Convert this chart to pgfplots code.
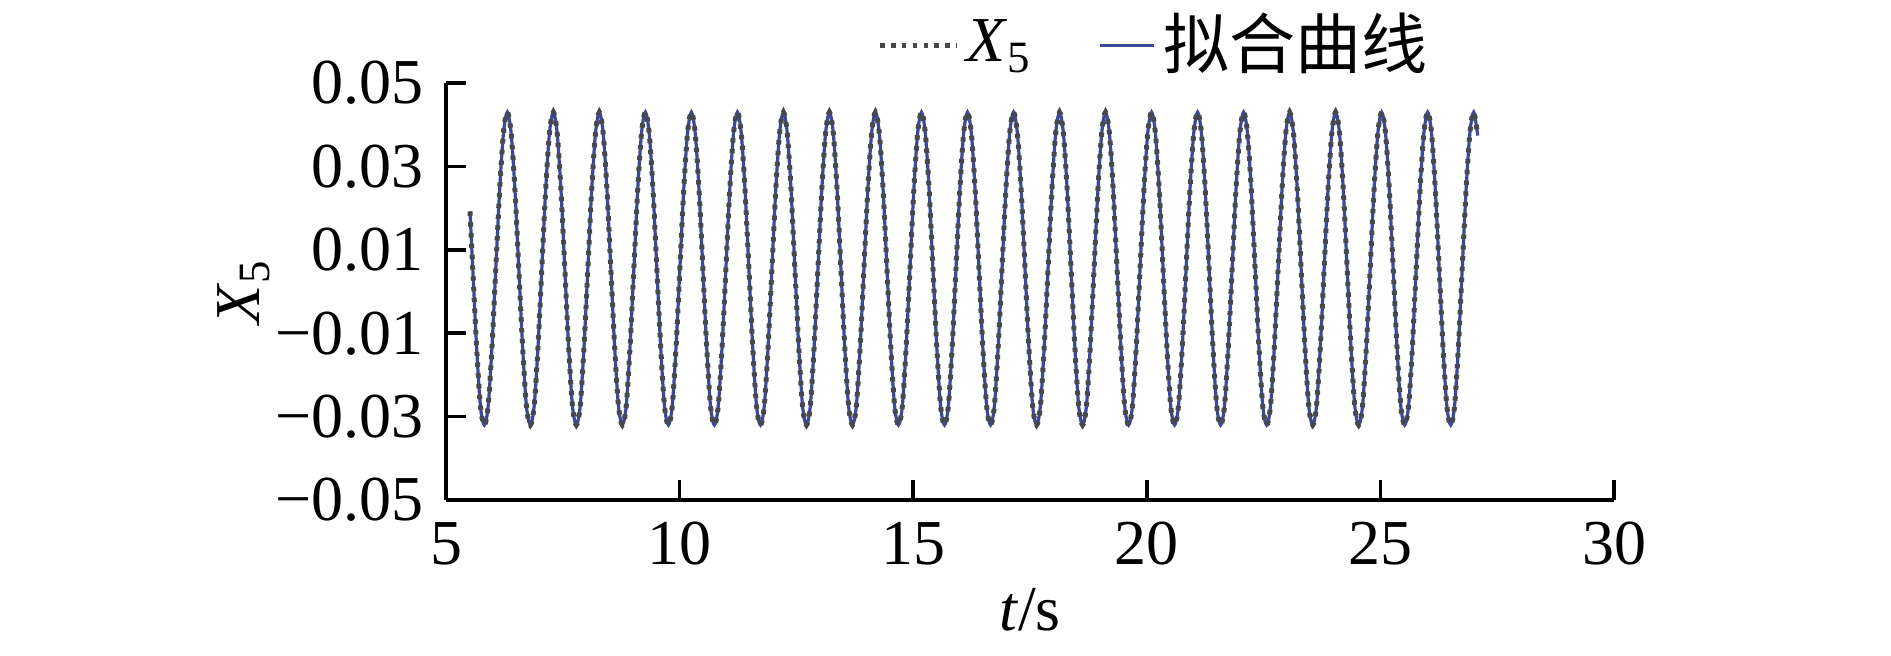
\documentclass[border=0pt]{standalone}
\usepackage{fontspec}
\setmainfont{Liberation Serif}
\newfontfamily\cjk{Noto Sans CJK SC}
\usepackage{pgfplots}
\usepackage{pgfplotstable}
\pgfplotsset{compat=1.18}

\definecolor{fitblue}{RGB}{62,72,150}
\definecolor{rawgrey}{RGB}{72,72,76}

\pgfplotsset{
  dotleg/.style={legend image code/.code={\draw[##1] (0pt,0pt) -- (19pt,0pt);}},
  lineleg/.style={legend image code/.code={\draw[##1] (0pt,0pt) -- (11pt,0pt); \path (0pt,0pt) -- (13.5pt,0pt);}},
}

% X5 response (t in s)
\pgfplotstableread[row sep=\\]{
t x \\
5.514 0.0192 \\ 5.573 0.0055 \\ 5.655 -0.0133 \\ 5.737 -0.0275 \\ 5.820 -0.0320 \\ 5.902 -0.0275 \\ 5.984 -0.0133 \\ 6.066 0.0055 \\ 6.148 0.0243 \\ 6.230 0.0380 \\
6.312 0.0430 \\ 6.394 0.0380 \\ 6.476 0.0243 \\ 6.558 0.0055 \\ 6.640 -0.0133 \\ 6.722 -0.0275 \\ 6.805 -0.0320 \\ 6.887 -0.0275 \\ 6.969 -0.0133 \\ 7.051 0.0055 \\ 7.133 0.0243 \\ 7.215 0.0380 \\
7.297 0.0430 \\ 7.379 0.0380 \\ 7.461 0.0243 \\ 7.543 0.0055 \\ 7.625 -0.0133 \\ 7.707 -0.0275 \\ 7.790 -0.0320 \\ 7.872 -0.0275 \\ 7.954 -0.0133 \\ 8.036 0.0055 \\ 8.118 0.0243 \\ 8.200 0.0380 \\
8.282 0.0430 \\ 8.364 0.0380 \\ 8.446 0.0243 \\ 8.528 0.0055 \\ 8.610 -0.0133 \\ 8.692 -0.0275 \\ 8.775 -0.0320 \\ 8.857 -0.0275 \\ 8.939 -0.0133 \\ 9.021 0.0055 \\ 9.103 0.0243 \\ 9.185 0.0380 \\
9.267 0.0430 \\ 9.349 0.0380 \\ 9.431 0.0243 \\ 9.513 0.0055 \\ 9.595 -0.0133 \\ 9.677 -0.0275 \\ 9.760 -0.0320 \\ 9.842 -0.0275 \\ 9.924 -0.0133 \\ 10.006 0.0055 \\ 10.088 0.0243 \\ 10.170 0.0380 \\
10.252 0.0430 \\ 10.334 0.0380 \\ 10.416 0.0243 \\ 10.498 0.0055 \\ 10.580 -0.0133 \\ 10.662 -0.0275 \\ 10.745 -0.0320 \\ 10.827 -0.0275 \\ 10.909 -0.0133 \\ 10.991 0.0055 \\ 11.073 0.0243 \\ 11.155 0.0380 \\
11.237 0.0430 \\ 11.319 0.0380 \\ 11.401 0.0243 \\ 11.483 0.0055 \\ 11.565 -0.0133 \\ 11.647 -0.0275 \\ 11.730 -0.0320 \\ 11.812 -0.0275 \\ 11.894 -0.0133 \\ 11.976 0.0055 \\ 12.058 0.0243 \\ 12.140 0.0380 \\
12.222 0.0430 \\ 12.304 0.0380 \\ 12.386 0.0243 \\ 12.468 0.0055 \\ 12.550 -0.0133 \\ 12.632 -0.0275 \\ 12.715 -0.0320 \\ 12.797 -0.0275 \\ 12.879 -0.0133 \\ 12.961 0.0055 \\ 13.043 0.0243 \\ 13.125 0.0380 \\
13.207 0.0430 \\ 13.289 0.0380 \\ 13.371 0.0243 \\ 13.453 0.0055 \\ 13.535 -0.0133 \\ 13.617 -0.0275 \\ 13.700 -0.0320 \\ 13.782 -0.0275 \\ 13.864 -0.0133 \\ 13.946 0.0055 \\ 14.028 0.0243 \\ 14.110 0.0380 \\
14.192 0.0430 \\ 14.274 0.0380 \\ 14.356 0.0243 \\ 14.438 0.0055 \\ 14.520 -0.0133 \\ 14.602 -0.0275 \\ 14.685 -0.0320 \\ 14.767 -0.0275 \\ 14.849 -0.0133 \\ 14.931 0.0055 \\ 15.013 0.0243 \\ 15.095 0.0380 \\
15.177 0.0430 \\ 15.259 0.0380 \\ 15.341 0.0243 \\ 15.423 0.0055 \\ 15.505 -0.0133 \\ 15.587 -0.0275 \\ 15.670 -0.0320 \\ 15.752 -0.0275 \\ 15.834 -0.0133 \\ 15.916 0.0055 \\ 15.998 0.0243 \\ 16.080 0.0380 \\
16.162 0.0430 \\ 16.244 0.0380 \\ 16.326 0.0243 \\ 16.408 0.0055 \\ 16.490 -0.0133 \\ 16.572 -0.0275 \\ 16.655 -0.0320 \\ 16.737 -0.0275 \\ 16.819 -0.0133 \\ 16.901 0.0055 \\ 16.983 0.0243 \\ 17.065 0.0380 \\
17.147 0.0430 \\ 17.229 0.0380 \\ 17.311 0.0243 \\ 17.393 0.0055 \\ 17.475 -0.0133 \\ 17.557 -0.0275 \\ 17.640 -0.0320 \\ 17.722 -0.0275 \\ 17.804 -0.0133 \\ 17.886 0.0055 \\ 17.968 0.0243 \\ 18.050 0.0380 \\
18.132 0.0430 \\ 18.214 0.0380 \\ 18.296 0.0243 \\ 18.378 0.0055 \\ 18.460 -0.0133 \\ 18.542 -0.0275 \\ 18.625 -0.0320 \\ 18.707 -0.0275 \\ 18.789 -0.0133 \\ 18.871 0.0055 \\ 18.953 0.0243 \\ 19.035 0.0380 \\
19.117 0.0430 \\ 19.199 0.0380 \\ 19.281 0.0243 \\ 19.363 0.0055 \\ 19.445 -0.0133 \\ 19.527 -0.0275 \\ 19.610 -0.0320 \\ 19.692 -0.0275 \\ 19.774 -0.0133 \\ 19.856 0.0055 \\ 19.938 0.0243 \\ 20.020 0.0380 \\
20.102 0.0430 \\ 20.184 0.0380 \\ 20.266 0.0243 \\ 20.348 0.0055 \\ 20.430 -0.0133 \\ 20.512 -0.0275 \\ 20.595 -0.0320 \\ 20.677 -0.0275 \\ 20.759 -0.0133 \\ 20.841 0.0055 \\ 20.923 0.0243 \\ 21.005 0.0380 \\
21.087 0.0430 \\ 21.169 0.0380 \\ 21.251 0.0243 \\ 21.333 0.0055 \\ 21.415 -0.0133 \\ 21.497 -0.0275 \\ 21.580 -0.0320 \\ 21.662 -0.0275 \\ 21.744 -0.0133 \\ 21.826 0.0055 \\ 21.908 0.0243 \\ 21.990 0.0380 \\
22.072 0.0430 \\ 22.154 0.0380 \\ 22.236 0.0243 \\ 22.318 0.0055 \\ 22.400 -0.0133 \\ 22.482 -0.0275 \\ 22.565 -0.0320 \\ 22.647 -0.0275 \\ 22.729 -0.0133 \\ 22.811 0.0055 \\ 22.893 0.0243 \\ 22.975 0.0380 \\
23.057 0.0430 \\ 23.139 0.0380 \\ 23.221 0.0243 \\ 23.303 0.0055 \\ 23.385 -0.0133 \\ 23.467 -0.0275 \\ 23.550 -0.0320 \\ 23.632 -0.0275 \\ 23.714 -0.0133 \\ 23.796 0.0055 \\ 23.878 0.0243 \\ 23.960 0.0380 \\
24.042 0.0430 \\ 24.124 0.0380 \\ 24.206 0.0243 \\ 24.288 0.0055 \\ 24.370 -0.0133 \\ 24.452 -0.0275 \\ 24.535 -0.0320 \\ 24.617 -0.0275 \\ 24.699 -0.0133 \\ 24.781 0.0055 \\ 24.863 0.0243 \\ 24.945 0.0380 \\
25.027 0.0430 \\ 25.109 0.0380 \\ 25.191 0.0243 \\ 25.273 0.0055 \\ 25.355 -0.0133 \\ 25.437 -0.0275 \\ 25.520 -0.0320 \\ 25.602 -0.0275 \\ 25.684 -0.0133 \\ 25.766 0.0055 \\ 25.848 0.0243 \\ 25.930 0.0380 \\
26.012 0.0430 \\ 26.094 0.0380 \\ 26.176 0.0243 \\ 26.258 0.0055 \\ 26.340 -0.0133 \\ 26.422 -0.0275 \\ 26.505 -0.0320 \\ 26.587 -0.0275 \\ 26.669 -0.0133 \\ 26.751 0.0055 \\ 26.833 0.0243 \\ 26.915 0.0380 \\
26.997 0.0430 \\ 27.083 0.0374 \\
}\xfive

\begin{document}
\fontsize{16}{19}\selectfont
\begin{tikzpicture}
\begin{axis}[
  name=ax,
  scale only axis,
  width=292pt, height=104.25pt,
  xmin=5, xmax=30, ymin=-0.05, ymax=0.05,
  scaled y ticks=false,
  axis x line=bottom, axis y line=left,
  axis line style={-, line width=1pt, black},
  xtick={5,10,15,20,25,30},
  xticklabels={5,10,15,20,25,30},
  ytick={-0.05,-0.03,-0.01,0.01,0.03,0.05},
  yticklabels={−0.05,−0.03,−0.01,0.01,0.03,0.05},
  tick align=inside,
  major tick length=5pt,
  tick style={line width=0.9pt, black},
  xlabel={\textit{t}/s},
  xlabel style={yshift=5pt},
  ylabel={\textit{X}\textsubscript{5}},
  ylabel style={yshift=-9.5pt},
  no markers,
  legend columns=2,
  legend style={draw=none, fill=none, inner sep=0pt,
    at={(0.369,1.09)}, anchor=west,
    /tikz/every even column/.append style={column sep=14.6pt}},
]
\addplot[fitblue, line width=0.8pt, smooth, forget plot] table[x=t, y=x] {\xfive};
\addplot[rawgrey, line width=1.25pt, dash pattern=on 1.1pt off 1.6pt, smooth, dotleg] table[x=t, y=x] {\xfive};
\addlegendentry{\textit{X}\textsubscript{5}}
\addlegendimage{fitblue, line width=0.8pt, lineleg}
\addlegendentry{{\cjk\fontsize{16.5}{19}\selectfont 拟合曲线}}
\end{axis}
\pgfresetboundingbox
\path[use as bounding box] ([xshift=-111.5pt,yshift=-38.75pt]ax.south west) rectangle ([xshift=69.25pt,yshift=20.75pt]ax.north east);
\end{tikzpicture}
\end{document}
